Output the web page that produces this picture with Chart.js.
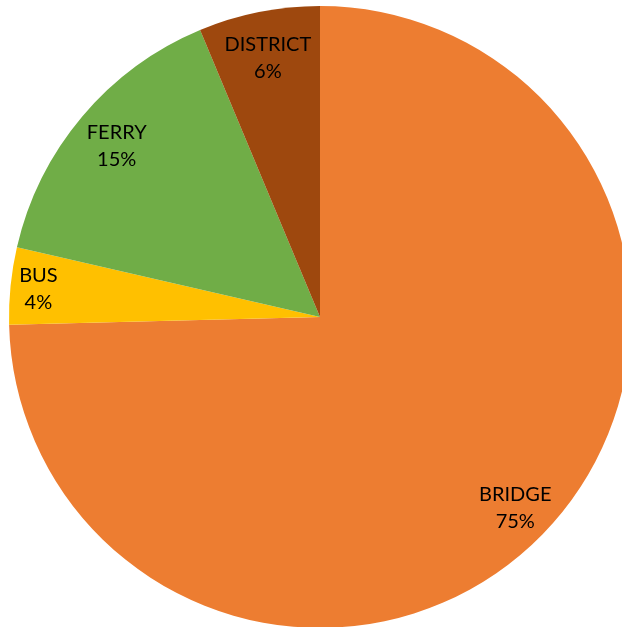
<!DOCTYPE html>
<html>
<head>
<meta charset="utf-8">
<script src="https://cdn.jsdelivr.net/npm/chart.js@4.4.1/dist/chart.umd.min.js"></script>
<style>
  html, body { margin: 0; padding: 0; background: #fff; overflow: hidden; }
  #wrap { position: absolute; left: 0; top: 0; width: 640px; height: 634px; }
</style>
</head>
<body>
<div id="wrap"><canvas id="chart"></canvas></div>
<script>
'use strict';

const categories = ['BRIDGE', 'BUS', 'FERRY', 'DISTRICT'];
const shares = [74.6, 4.0, 15.1, 6.3];
const colors = ['#ED7D31', '#FFC000', '#70AD47', '#9E480E'];

// labels drawn inside each slice, like the original
const sliceLabels = {
  id: 'sliceLabels',
  afterDatasetsDraw(chart, args, opts) {
    const ctx = chart.ctx;
    const meta = chart.getDatasetMeta(0);
    const total = shares.reduce((a, b) => a + b, 0);
    ctx.save();
    ctx.font = '20px Lato';
    ctx.fillStyle = '#000';
    ctx.textAlign = 'center';
    ctx.textBaseline = 'alphabetic';
    meta.data.forEach((arc, i) => {
      const p = arc.getProps(['x', 'y', 'startAngle', 'endAngle', 'outerRadius'], true);
      const mid = (p.startAngle + p.endAngle) / 2;
      const r = p.outerRadius * opts.radius[i];
      const x = p.x + Math.cos(mid) * r;
      const y = p.y + Math.sin(mid) * r;
      const pct = Math.round(shares[i] / total * 100) + '%';
      // baseline positions: cap height ~14px, line gap 27px
      ctx.fillText(categories[i], x, y - 6.5);
      ctx.fillText(pct, x, y + 20.5);
    });
    ctx.restore();
  }
};

function renderChart() {
  const ctx = document.getElementById('chart');

  new Chart(ctx, {
    type: 'pie',
    data: {
      labels: categories,
      datasets: [{
        data: shares,
        backgroundColor: colors,
        borderWidth: 0
      }]
    },
    options: {
      responsive: true,
      maintainAspectRatio: false,
      animation: false,
      layout: { padding: { left: 9, right: 9, top: 6, bottom: 6 } },
      plugins: {
        legend: { display: false },
        tooltip: { enabled: false },
        sliceLabels: { radius: [0.877, 0.91, 0.855, 0.852] }
      }
    },
    plugins: [sliceLabels]
  });
}

renderChart();
</script>
</body>
</html>
